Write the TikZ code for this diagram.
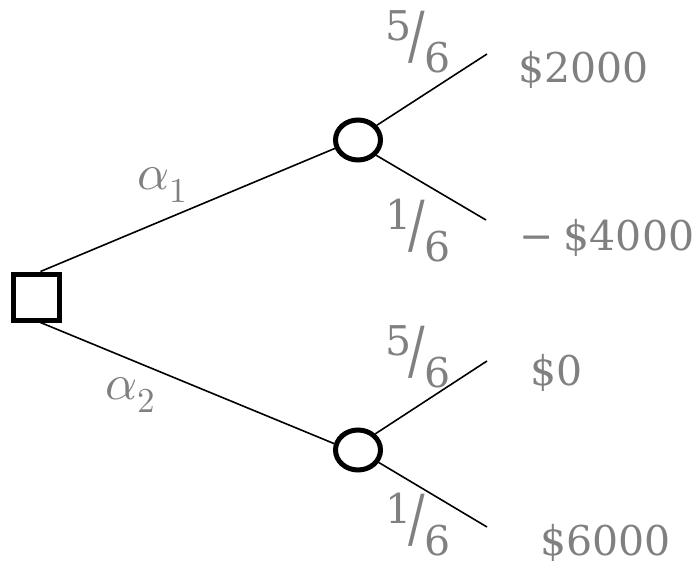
\documentclass[tikz,border=0pt]{standalone}
\usepackage{fontspec}
\usepackage{unicode-math}
\setmainfont{DejaVu Serif}
\setmathfont{Latin Modern Math}
\usepackage{graphicx}
\usepackage{tikz}
\usetikzlibrary{shapes.geometric, positioning}

\definecolor{labgray}{RGB}{128,128,128}
% bevelled probability, numerator up and denominator down
\newcommand{\probfrac}[2]{\raisebox{0.78em}{#1}\kern-0.08em\raisebox{0.37em}{\scalebox{1.2}[1.55]{/}}\kern-0.02em#2}

\begin{document}
\begin{tikzpicture}[
        x=1pt, y=-1pt,
        decision/.style={rectangle, draw=black, line width=5pt, minimum size=46pt, inner sep=0pt},
        chance/.style={ellipse, draw=black, line width=5pt, minimum width=45pt, minimum height=40pt, inner sep=0pt},
        branch/.style={line width=1.6pt, black},
        lab/.style={text=labgray, inner sep=0pt, font=\fontsize{41}{49}\selectfont},
        alt/.style={lab, font=\fontsize{50}{56}\selectfont},
        pay/.style={lab, anchor=base west}
    ]
        \useasboundingbox (0,0) rectangle (695,564);

        \node[decision] (dec) at (36,297) {};
        \node[chance] (up) at (358,140) {};
        \node[chance] (down) at (358,450) {};

        \coordinate (upwin) at (487,54);
        \coordinate (uplose) at (486,220);
        \coordinate (downzero) at (487,361);
        \coordinate (downwin) at (487,527);

        \draw[branch] (dec.80) -- (up.200);
        \draw[branch] (dec.280) -- (down.165);
        \draw[branch] (up.38) -- (upwin);
        \draw[branch] (up.320) -- (uplose);
        \draw[branch] (down.43) -- (downzero);
        \draw[branch] (down.329) -- (downwin);

        \node[alt] (a1) at (162,185) {$\alpha_1$};
        \node[alt] (a2) at (130,395) {$\alpha_2$};

        \node[lab] (p1) at (418,42) {\probfrac{5}{6}};
        \node[lab] (p2) at (418,231) {\probfrac{1}{6}};
        \node[lab] (p3) at (418,357) {\probfrac{5}{6}};
        \node[lab] (p4) at (418,525) {\probfrac{1}{6}};

        \node[pay] (v1) at (518,83) {\$2000};
        \node[pay] (v2) at (519,250) {−\kern0.25em\$4000};
        \node[pay] (v3) at (530,385) {\$0};
        \node[pay] (v4) at (540,555) {\$6000};
    \end{tikzpicture}
\end{document}
